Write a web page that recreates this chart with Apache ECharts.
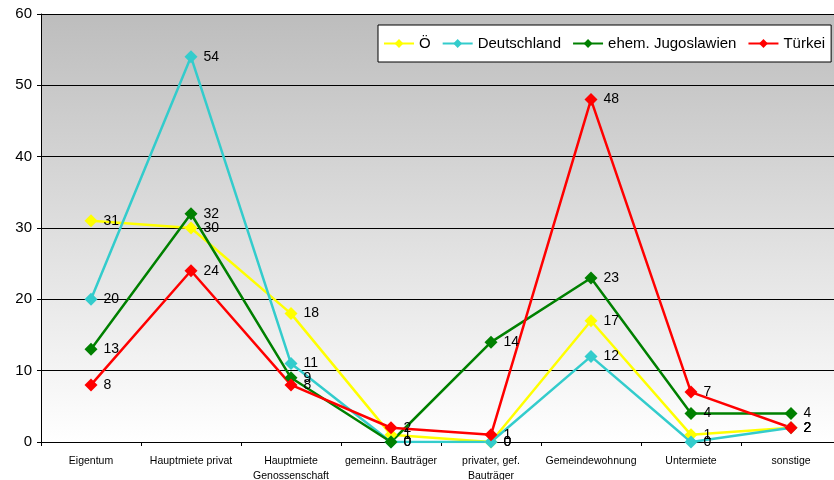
<!DOCTYPE html>
<html>
<head>
<meta charset="utf-8">
<script src="https://cdn.jsdelivr.net/npm/echarts@6/dist/echarts.min.js"></script>
<style>
html,body{margin:0;padding:0;background:#fff;}
#chart{width:834px;height:480px;}
</style>
</head>
<body>
<div id="chart"></div>
<script>
// Wohnrechtsform nach Herkunft (Prozent)
const categories = ['Eigentum', 'Hauptmiete privat', 'Hauptmiete\nGenossenschaft', 'gemeinn. Bauträger', 'privater, gef.\nBauträger', 'Gemeindewohnung', 'Untermiete', 'sonstige'];
const oesterreich = [31, 30, 18, 1, 0, 17, 1, 2];
const deutschland = [20, 54, 11, 0, 0, 12, 0, 2];
const jugoslawien = [13, 32, 9, 0, 14, 23, 4, 4];
const tuerkei = [8, 24, 8, 2, 1, 48, 7, 2];
const yTicks = { min: 0, max: 60, step: 10 };

const FONT = 'Liberation Sans, Arial, sans-serif';

function lineSeries(name, data, color) {
  return {
    name: name,
    type: 'line',
    data: data,
    symbol: 'diamond',
    symbolSize: 13,
    lineStyle: { color: color, width: 2.5 },
    itemStyle: { color: color },
    label: {
      show: true,
      position: 'right',
      distance: 6,
      color: '#000',
      fontFamily: FONT,
      fontSize: 14
    },
    animation: false
  };
}

const chart = echarts.init(document.getElementById('chart'));
chart.setOption({
  animation: false,
  grid: {
    left: 41, top: 14, width: 800, height: 428,
    containLabel: false,
    outerBoundsMode: 'none',
    show: true,
    borderWidth: 0,
    backgroundColor: new echarts.graphic.LinearGradient(0, 0, 0, 1, [
      { offset: 0, color: '#bdbdbd' },
      { offset: 1, color: '#ffffff' }
    ])
  },
  legend: {
    left: 378, top: 25,
    width: 454,
    padding: [11, 6, 11, 5],
    backgroundColor: '#fff',
    borderColor: '#000',
    borderWidth: 1,
    itemWidth: 30,
    itemHeight: 11,
    itemGap: 11,
    textStyle: { fontFamily: FONT, fontSize: 15, color: '#000' },
    data: ['Ö', 'Deutschland', 'ehem. Jugoslawien', 'Türkei']
  },
  xAxis: {
    type: 'category',
    data: categories,
    boundaryGap: true,
    axisLine: { lineStyle: { color: '#000', width: 1 } },
    axisTick: { show: true, length: 4, lineStyle: { color: '#000' } },
    axisLabel: {
      interval: 0,
      margin: 12,
      color: '#000',
      fontFamily: FONT,
      fontSize: 10.5,
      lineHeight: 15
    }
  },
  yAxis: {
    type: 'value',
    min: yTicks.min, max: yTicks.max, interval: yTicks.step,
    axisLine: { show: true, lineStyle: { color: '#000', width: 1 } },
    axisTick: { show: true, length: 4, lineStyle: { color: '#000' } },
    splitLine: { lineStyle: { color: '#000', width: 1 } },
    axisLabel: {
      margin: 9,
      color: '#000',
      fontFamily: FONT,
      fontSize: 15
    }
  },
  series: [
    lineSeries('Ö', oesterreich, '#ffff00'),
    lineSeries('Deutschland', deutschland, '#33cccc'),
    lineSeries('ehem. Jugoslawien', jugoslawien, '#008000'),
    lineSeries('Türkei', tuerkei, '#ff0000')
  ]
});
</script>
</body>
</html>
